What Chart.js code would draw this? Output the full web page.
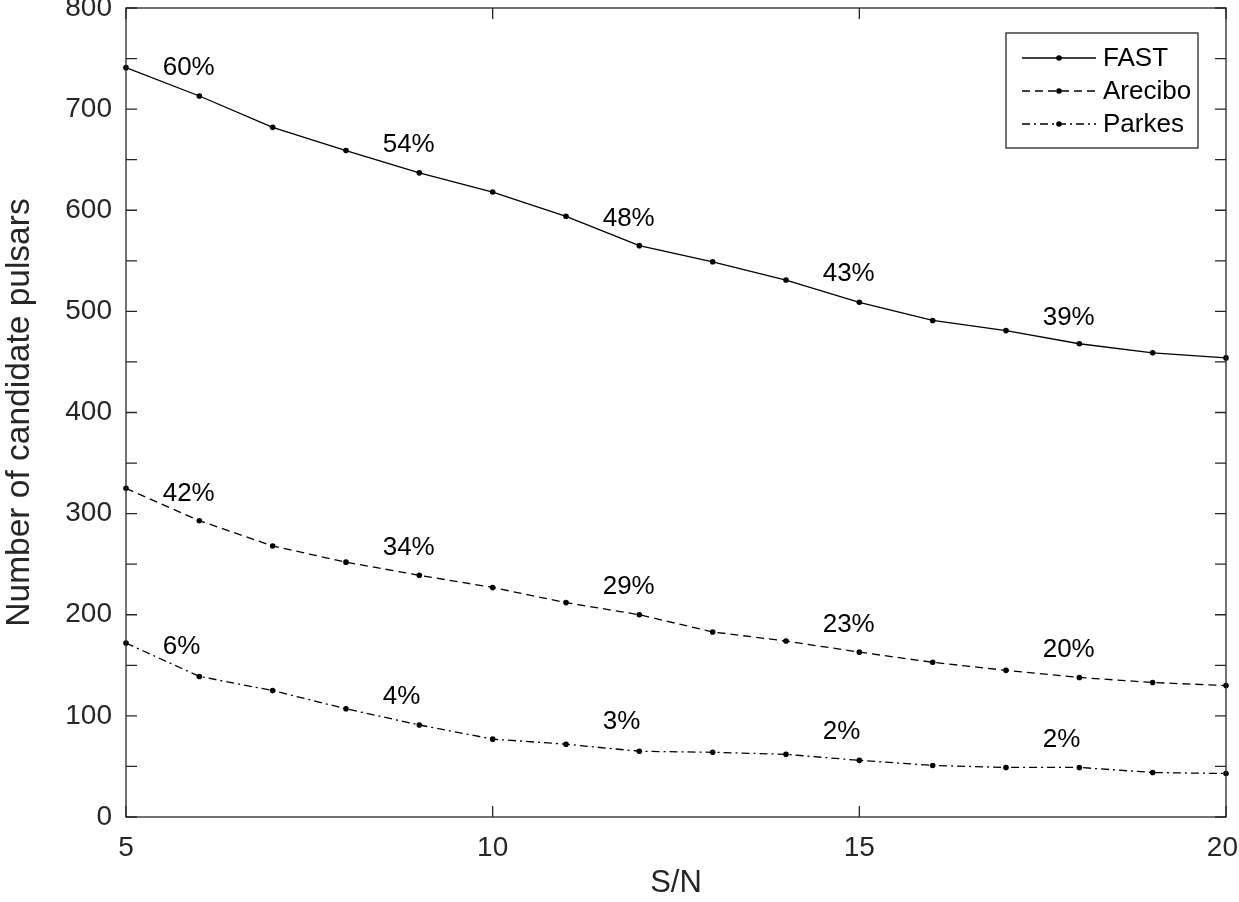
<!DOCTYPE html>
<html>
<head>
<meta charset="utf-8">
<script src="https://cdn.jsdelivr.net/npm/chart.js@4"></script>
<style>
  html, body { margin: 0; padding: 0; background: #fff; }
  #wrap { width: 1239px; height: 902px; }
</style>
</head>
<body>
<div id="wrap"><canvas id="chart" width="1239" height="902"></canvas></div>
<script>
const sn = [5, 6, 7, 8, 9, 10, 11, 12, 13, 14, 15, 16, 17, 18, 19, 20];
const fast = [741, 713, 682, 659, 637, 618, 594, 565, 549, 531, 509, 491, 481, 468, 459, 454];
const arecibo = [325, 293, 268, 252, 239, 227, 212, 200, 183, 174, 163, 153, 145, 138, 133, 130];
const parkes = [172, 139, 125, 107, 91, 77, 72, 65, 64, 62, 56, 51, 49, 49, 44, 43];

const labelX = [5.5, 8.5, 11.5, 14.5, 17.5];
const fastPct = ['60%', '54%', '48%', '43%', '39%'];
const fastPctY = [741, 665, 592, 537, 494];
const areciboPct = ['42%', '34%', '29%', '23%', '20%'];
const areciboPctY = [320, 266, 228, 190, 165];
const parkesPct = ['6%', '4%', '3%', '2%', '2%'];
const parkesPctY = [168, 119, 94, 84, 76];

const seriesNames = ['FAST', 'Arecibo', 'Parkes'];
const dashes = [[], [8, 5], [8, 4, 2, 4]];

const FONT = '"Liberation Sans", Arial, sans-serif';
const INK = '#262626';

const toPts = ys => sn.map((x, i) => ({ x, y: ys[i] }));

const mkSet = (name, ys, dash) => ({
  label: name,
  data: toPts(ys),
  borderColor: '#000',
  backgroundColor: '#000',
  borderWidth: 1.3,
  borderDash: dash,
  pointRadius: 2.8,
  pointBorderWidth: 0,
  tension: 0,
  clip: false,
});

const decor = {
  id: 'decor',
  afterDraw(chart) {
    const { ctx, chartArea: a, scales: { x, y } } = chart;
    ctx.save();
    // box
    ctx.strokeStyle = INK;
    ctx.lineWidth = 1.3;
    ctx.strokeRect(a.left, a.top, a.right - a.left, a.bottom - a.top);
    // inward ticks
    y.ticks.forEach(t => {
      const py = y.getPixelForValue(t.value);
      ctx.beginPath();
      ctx.moveTo(a.left, py); ctx.lineTo(a.left + 11, py);
      ctx.moveTo(a.right, py); ctx.lineTo(a.right - 11, py);
      ctx.stroke();
    });
    // x tick labels, kept inside the canvas
    ctx.fillStyle = INK;
    ctx.font = '28px ' + FONT;
    ctx.textAlign = 'center';
    ctx.textBaseline = 'middle';
    x.ticks.forEach(t => {
      const px = x.getPixelForValue(t.value);
      ctx.beginPath();
      ctx.moveTo(px, a.bottom); ctx.lineTo(px, a.bottom - 11);
      ctx.moveTo(px, a.top); ctx.lineTo(px, a.top + 11);
      ctx.stroke();
      const s = String(t.value);
      const half = ctx.measureText(s).width / 2;
      const cx = Math.min(px, chart.width - half - 1);
      ctx.fillText(s, cx, a.bottom + 31);
    });

    // percent labels
    ctx.fillStyle = '#000';
    ctx.font = '26px ' + FONT;
    ctx.textAlign = 'left';
    ctx.textBaseline = 'middle';
    [[fastPct, fastPctY], [areciboPct, areciboPctY], [parkesPct, parkesPctY]].forEach(([txt, ys]) => {
      txt.forEach((s, i) => ctx.fillText(s, x.getPixelForValue(labelX[i]), y.getPixelForValue(ys[i])));
    });

    // legend
    const lx = 1006, ly = 33, lw = 192, lh = 115;
    ctx.fillStyle = '#fff';
    ctx.fillRect(lx, ly, lw, lh);
    ctx.strokeStyle = INK;
    ctx.lineWidth = 1.3;
    ctx.setLineDash([]);
    ctx.strokeRect(lx, ly, lw, lh);
    seriesNames.forEach((name, i) => {
      const cy = ly + 25 + i * 33;
      ctx.strokeStyle = '#000';
      ctx.setLineDash(dashes[i]);
      ctx.beginPath();
      ctx.moveTo(lx + 16, cy); ctx.lineTo(lx + 90, cy);
      ctx.stroke();
      ctx.setLineDash([]);
      ctx.fillStyle = '#000';
      ctx.beginPath();
      ctx.arc(lx + 53, cy, 2.8, 0, Math.PI * 2);
      ctx.fill();
      ctx.font = '26px ' + FONT;
      ctx.fillText(name, lx + 97, cy + 1);
    });
    ctx.restore();
  }
};

new Chart(document.getElementById('chart'), {
  type: 'line',
  data: {
    datasets: [
      mkSet('FAST', fast, dashes[0]),
      mkSet('Arecibo', arecibo, dashes[1]),
      mkSet('Parkes', parkes, dashes[2]),
    ],
  },
  options: {
    responsive: false,
    animation: false,
    devicePixelRatio: 1,
    layout: { padding: { top: 8, right: 13, left: 0, bottom: 0 } },
    plugins: { legend: { display: false }, tooltip: { enabled: false } },
    scales: {
      x: {
        type: 'linear', min: 5, max: 20,
        ticks: { stepSize: 5, color: 'rgba(0,0,0,0)', font: { family: FONT, size: 28 }, padding: 16, maxRotation: 0 },
        grid: { display: false, drawTicks: false },
        border: { display: false },
        title: { display: true, text: 'S/N', color: INK, font: { family: FONT, size: 31 }, padding: { top: 0, bottom: 0 } },
        afterFit: s => { s.height = 85; s.paddingLeft = 0; s.paddingRight = 0; },
      },
      y: {
        min: 0, max: 800,
        ticks: {
          stepSize: 50, color: INK, font: { family: FONT, size: 28 }, padding: 14,
          callback: v => (v % 100 === 0 ? v : ''),
        },
        grid: { display: false, drawTicks: false },
        border: { display: false },
        title: { display: true, text: 'Number of candidate pulsars', color: INK, font: { family: FONT, size: 33.5 }, padding: { top: 0, bottom: 0 } },
        afterFit: s => { s.width = 126; s.paddingTop = 0; s.paddingBottom = 0; },
      },
    },
  },
  plugins: [decor],
});
</script>
</body>
</html>
